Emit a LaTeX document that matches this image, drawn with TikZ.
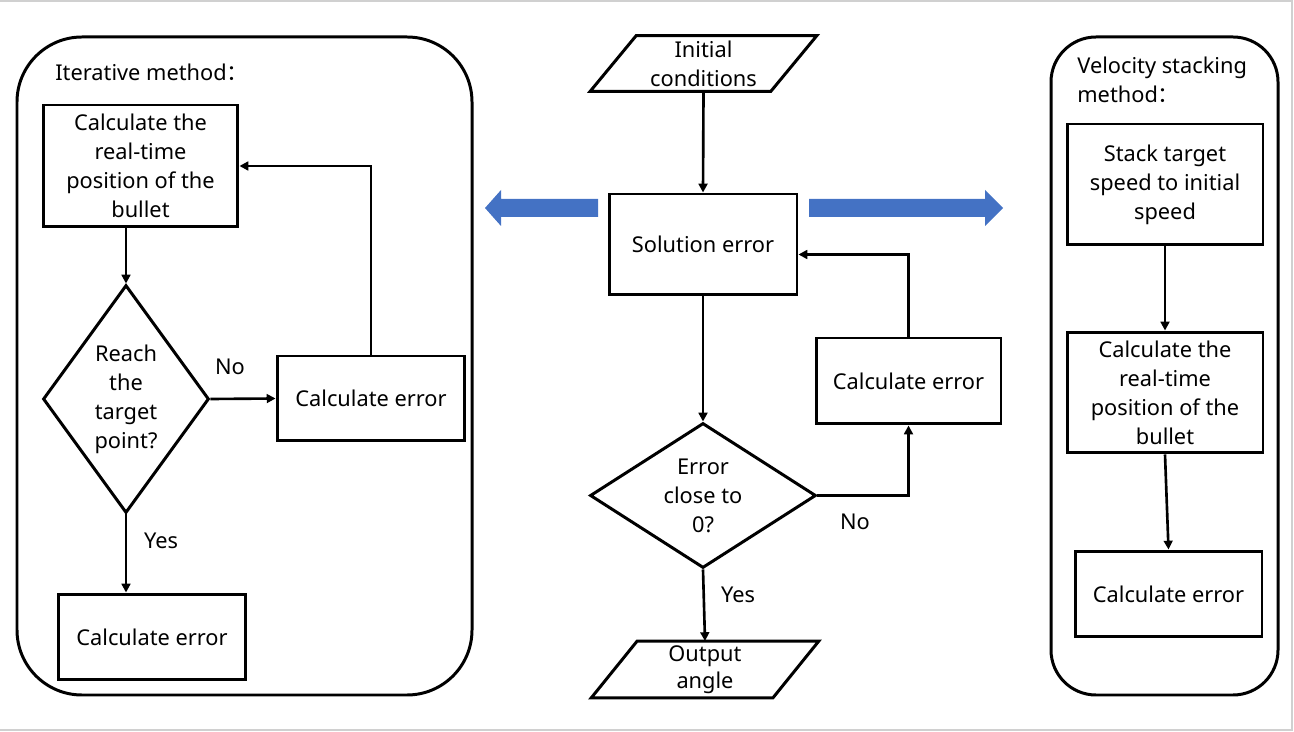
\documentclass[tikz,border=0pt]{standalone}
\usepackage{fontspec}
\setmainfont{Noto Sans}
\newfontfamily\cjk{Noto Sans CJK SC}
\usetikzlibrary{shapes.geometric,arrows.meta,calc}
\definecolor{arrowblue}{HTML}{4472C4}
\definecolor{framegray}{HTML}{D0D0D0}
\begin{document}
\begin{tikzpicture}[x=0.02cm,y=-0.02cm,
  every node/.style={font=\fontsize{12.4}{16.5}\selectfont},
  box/.style={draw, line width=1.7pt, align=center, inner sep=0pt},
  dia/.style={draw, diamond, line width=1.7pt, align=center, inner sep=0pt},
  para/.style={align=center, inner sep=0pt},
  conn/.style={line width=1.5pt, -{Triangle[length=5pt,width=5pt]}},
  lbl/.style={inner sep=0pt},
  group/.style={line width=1.7pt},
  bluearrow/.style={fill=arrowblue}
]
\useasboundingbox (0,0) rectangle (1294,732);
\draw[framegray, line width=0.6pt] (0,1) -- (1292,1) -- (1292,730) -- (0,730);

% groups
\draw[group, rounded corners=1.3cm] (17,37) rectangle (472,695);
\draw[group, rounded corners=0.9cm] (1051,37) rectangle (1278,695);
\node[lbl, anchor=west] (t1) at (55,72) {Iterative method{\cjk ：}};
\node[lbl, anchor=west, align=left] (t2) at (1077,79.5) {Velocity stacking\\method{\cjk ：}};

% left
\node[box, minimum width=3.9cm, minimum height=2.44cm] (b1) at (140.5,166) {Calculate the\\real-time\\position of the\\bullet};
\node[dia, minimum width=3.32cm, minimum height=4.56cm, aspect=0.73] (d1) at (126,399) {Reach\\the\\target\\point?};
\node[box, minimum width=3.76cm, minimum height=1.7cm] (b2) at (371,398.5) {Calculate error};
\node[box, minimum width=3.76cm, minimum height=1.72cm] (b3) at (152,637) {Calculate error};
\node[lbl] (no1) at (230,367) {No};
\node[lbl] (yes1) at (161,541) {Yes};
\draw[conn] (b1.south -| d1.north) -- (d1.north);
\draw[conn] (d1.east) -- (b2.west);
\draw[conn] (b2.north) |- (b1.east);
\draw[conn] (d1.south) -- (b3.north -| d1.south);

% center
\node[para, minimum width=3.6cm, minimum height=1.1cm] (ic) at (703.5,63.5) {Initial\\conditions};
\draw[group] ($(ic.north west)+(0.46cm,0)$) -- ($(ic.north east)+(0.46cm,0)$) -- ($(ic.south east)+(-0.46cm,0)$) -- ($(ic.south west)+(-0.46cm,0)$) -- cycle;
\node[box, minimum width=3.76cm, minimum height=2.02cm] (se) at (703,244.5) {Solution error};
\node[dia, minimum width=4.52cm, minimum height=2.9cm, aspect=1.56] (d2) at (703,495.5) {Error\\close to\\0?};
\node[box, minimum width=3.7cm, minimum height=1.72cm] (ce) at (908.5,381) {Calculate error};
\node[para, minimum width=3.62cm, minimum height=1.1cm] (oa) at (705,669.5) {\raisebox{-0.08cm}{\begin{tabular}{@{}c@{}}Output\\[-1pt]angle\end{tabular}}};
\draw[group] ($(oa.north west)+(0.46cm,0)$) -- ($(oa.north east)+(0.46cm,0)$) -- ($(oa.south east)+(-0.46cm,0)$) -- ($(oa.south west)+(-0.46cm,0)$) -- cycle;
\node[lbl] (no2) at (855,522) {No};
\node[lbl] (yes2) at (738,595) {Yes};
\draw[conn] (ic.south) -- (se.north);
\draw[conn] (se.south) -- (d2.north);
\draw[conn] (d2.east) -| (ce.south);
\draw[conn] (ce.north) |- ($(se.east)+(0,-0.2cm)$);
\draw[conn] (d2.south) -- (oa.north);
\fill[bluearrow] (485,208) -- (501,190) -- (501,199) -- (598,199) -- (598,217) -- (501,217) -- (501,226) -- cycle;
\fill[bluearrow] (1003,208) -- (985,190) -- (985,199) -- (809,199) -- (809,217) -- (985,217) -- (985,226) -- cycle;

% right
\node[box, minimum width=3.92cm, minimum height=2.42cm] (r1) at (1165,184.5) {Stack target\\speed to initial\\speed};
\node[box, minimum width=3.92cm, minimum height=2.42cm] (r2) at (1165,392.5) {Calculate the\\real-time\\position of the\\bullet};
\node[box, minimum width=3.74cm, minimum height=1.72cm] (r3) at (1168.5,594) {Calculate error};
\draw[conn] (r1.south) -- (r2.north);
\draw[conn] (r2.south) -- (r3.north);
\end{tikzpicture}
\end{document}
